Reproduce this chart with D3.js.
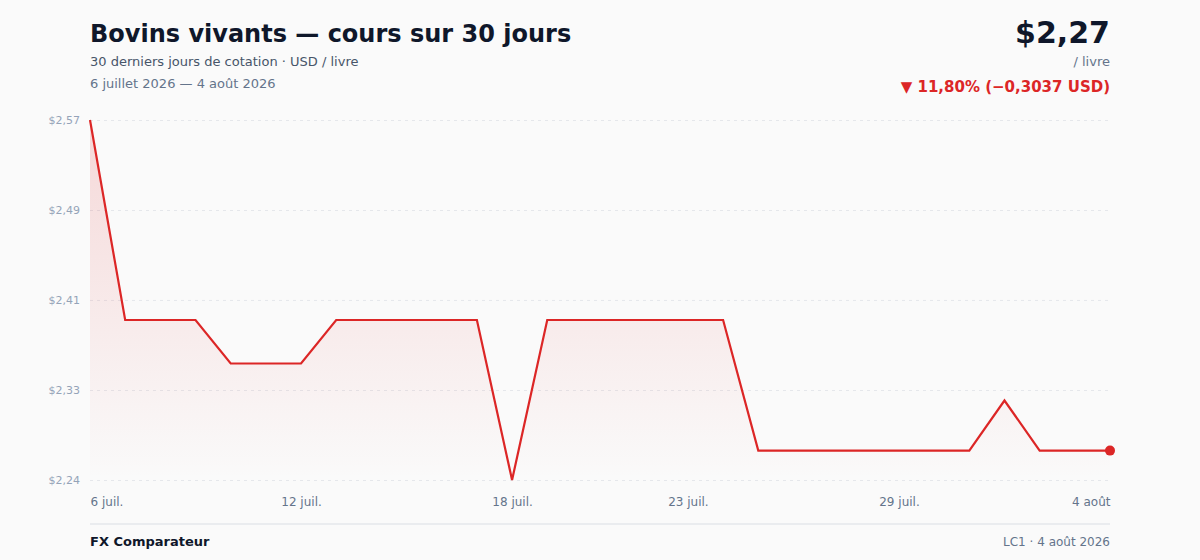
<!DOCTYPE html>
<html>
<head>
<meta charset="utf-8">
<script src="https://cdn.jsdelivr.net/npm/d3@7"></script>
<style>
  body { margin: 0; background: #fafafa; }
  svg { display: block; font-family: "DejaVu Sans", sans-serif; }
</style>
</head>
<body>
<div id="chart"></div>
<script>
// daily quotes, 6 juil. -> 4 août 2026
var dates = ["2026-07-06","2026-07-07","2026-07-08","2026-07-09","2026-07-10","2026-07-11",
  "2026-07-12","2026-07-13","2026-07-14","2026-07-15","2026-07-16","2026-07-17",
  "2026-07-18","2026-07-19","2026-07-20","2026-07-21","2026-07-22","2026-07-23",
  "2026-07-24","2026-07-25","2026-07-26","2026-07-27","2026-07-28","2026-07-29",
  "2026-07-30","2026-07-31","2026-08-01","2026-08-02","2026-08-03","2026-08-04"];
var prices = [2.5737, 2.390, 2.390, 2.390, 2.350, 2.350,
  2.350, 2.390, 2.390, 2.390, 2.390, 2.390,
  2.243, 2.390, 2.390, 2.390, 2.390, 2.390,
  2.390, 2.270, 2.270, 2.270, 2.270, 2.270,
  2.270, 2.270, 2.316, 2.270, 2.270, 2.270];

var xTickDates = ["2026-07-06","2026-07-12","2026-07-18","2026-07-23","2026-07-29","2026-08-04"];
var xTickLabels = ["6 juil.","12 juil.","18 juil.","23 juil.","29 juil.","4 août"];
var yTickValues = [2.243, 2.3257, 2.4084, 2.4910, 2.5737];
var yTickLabels = ["$2,24","$2,33","$2,41","$2,49","$2,57"];

var W = 1200, H = 560;
var margin = {top: 120, right: 90, bottom: 80, left: 90},
    width = W - margin.left - margin.right,
    height = H - margin.top - margin.bottom;

var parse = d3.timeParse("%Y-%m-%d");
var data = dates.map(function(d, i) { return {date: parse(d), value: prices[i]}; });

var svg = d3.select("#chart").append("svg")
  .attr("width", W).attr("height", H);

// header
svg.append("text").attr("x", 90).attr("y", 42)
  .attr("font-size", "24px").attr("font-weight", "bold").attr("fill", "#0f172a")
  .text("Bovins vivants — cours sur 30 jours");
svg.append("text").attr("x", 90).attr("y", 66)
  .attr("font-size", "13px").attr("fill", "#475569")
  .text("30 derniers jours de cotation · USD / livre");
svg.append("text").attr("x", 90).attr("y", 88)
  .attr("font-size", "13px").attr("fill", "#64748b")
  .text("6 juillet 2026 — 4 août 2026");

svg.append("text").attr("x", 1110).attr("y", 43).attr("text-anchor", "end")
  .attr("font-size", "30px").attr("font-weight", "bold").attr("fill", "#0f172a")
  .text("$2,27");
svg.append("text").attr("x", 1110).attr("y", 66).attr("text-anchor", "end")
  .attr("font-size", "13px").attr("fill", "#64748b")
  .text("/ livre");
svg.append("text").attr("x", 1110).attr("y", 92).attr("text-anchor", "end")
  .attr("font-size", "15px").attr("font-weight", "bold").attr("fill", "#dc2626")
  .text("▼ 11,80% (−0,3037 USD)");

var g = svg.append("g").attr("transform", "translate(" + margin.left + "," + margin.top + ")");

var x = d3.scaleTime()
  .domain(d3.extent(data, function(d) { return d.date; }))
  .range([0, width]);
var y = d3.scaleLinear()
  .domain([yTickValues[0], yTickValues[yTickValues.length - 1]])
  .range([height, 0]);

// gradient for area
var defs = svg.append("defs");
var grad = defs.append("linearGradient").attr("id", "areaGrad")
  .attr("x1", 0).attr("y1", 0).attr("x2", 0).attr("y2", 1);
grad.append("stop").attr("offset", "0%").attr("stop-color", "#dc2626").attr("stop-opacity", 0.16);
grad.append("stop").attr("offset", "100%").attr("stop-color", "#dc2626").attr("stop-opacity", 0);

// grid + y labels
var yAxis = g.append("g")
  .call(d3.axisLeft(y).tickValues(yTickValues).tickSize(-width)
    .tickFormat(function(d, i) { return yTickLabels[i]; }));
yAxis.select(".domain").remove();
yAxis.selectAll(".tick line")
  .attr("stroke", "#e5e7eb").attr("stroke-dasharray", "3,4");
yAxis.selectAll(".tick text")
  .attr("x", -10).attr("fill", "#94a3b8").attr("font-size", "11px")
  .attr("font-family", "DejaVu Sans, sans-serif");

// x labels
var xAxis = g.append("g").attr("transform", "translate(0," + height + ")")
  .call(d3.axisBottom(x).tickValues(xTickDates.map(parse)).tickSize(0)
    .tickFormat(function(d, i) { return xTickLabels[i]; }));
xAxis.select(".domain").remove();
xAxis.selectAll(".tick text")
  .attr("y", 26).attr("dy", "0").attr("fill", "#64748b").attr("font-size", "12px")
  .attr("font-family", "DejaVu Sans, sans-serif")
  .attr("text-anchor", function(d, i) { return i === 0 ? "start" : (i === xTickDates.length - 1 ? "end" : "middle"); });

// area + line
g.append("path").datum(data)
  .attr("fill", "url(#areaGrad)")
  .attr("d", d3.area()
    .x(function(d) { return x(d.date); })
    .y0(height)
    .y1(function(d) { return y(d.value); }));

g.append("path").datum(data)
  .attr("fill", "none").attr("stroke", "#dc2626").attr("stroke-width", 2.2)
  .attr("stroke-linejoin", "miter")
  .attr("d", d3.line()
    .x(function(d) { return x(d.date); })
    .y(function(d) { return y(d.value); }));

var last = data[data.length - 1];
g.append("circle")
  .attr("cx", x(last.date)).attr("cy", y(last.value)).attr("r", 5)
  .attr("fill", "#dc2626");

// footer
svg.append("line").attr("x1", 90).attr("x2", 1110).attr("y1", 524).attr("y2", 524)
  .attr("stroke", "#e5e7eb").attr("stroke-width", 1.5);
svg.append("text").attr("x", 90).attr("y", 546)
  .attr("font-size", "13px").attr("font-weight", "bold").attr("fill", "#0f172a")
  .text("FX Comparateur");
svg.append("text").attr("x", 1110).attr("y", 546).attr("text-anchor", "end")
  .attr("font-size", "12px").attr("fill", "#64748b")
  .text("LC1 · 4 août 2026");
</script>
</body>
</html>
